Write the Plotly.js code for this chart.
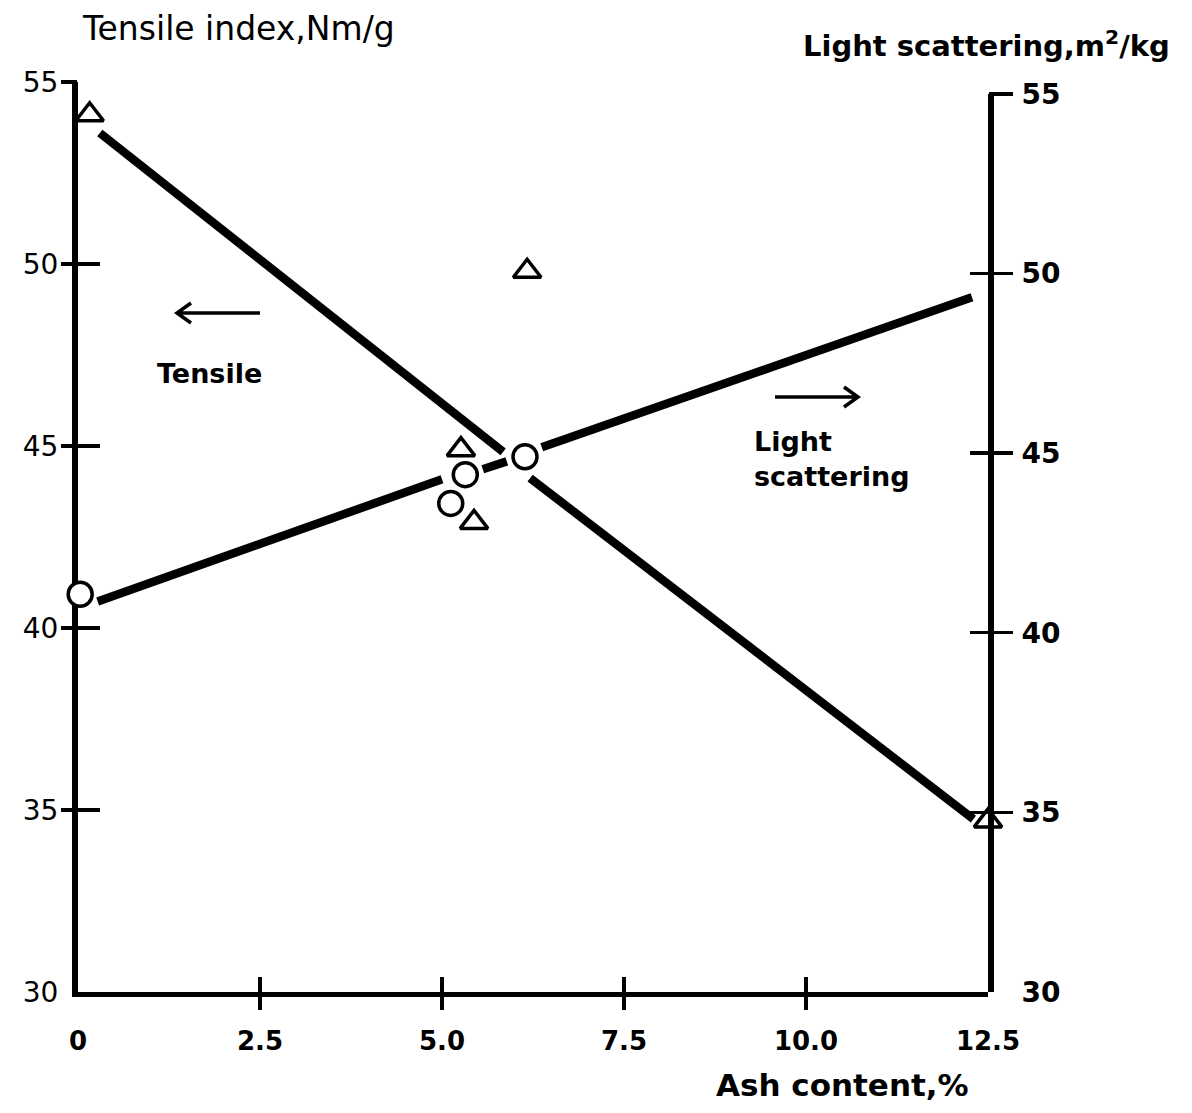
<!DOCTYPE html>
<html>
<head>
<meta charset="utf-8">
<script src="https://cdn.plot.ly/plotly-3.0.1.min.js"></script>
<style>html,body{margin:0;padding:0;background:#fff;}#chart{width:1192px;height:1113px;}</style>
</head>
<body>
<div id="chart"></div>
<script>
// Ash content (%) tick labels
const xTickVals = [0, 2.5, 5, 7.5, 10, 12.5];
const xTickText = ["0", "2.5", "5.0", "7.5", "10.0", "12.5"];
const xTickMarks = [2.5, 5, 7.5, 10];
const yTickVals = [30, 35, 40, 45, 50, 55];
const yTickText = ["30", "35", "40", "45", "50", "55"];
const yTickMarks = [35, 40, 45, 50, 55];

// Tensile index (left axis), triangles
const tensileAsh = [0.16, 5.26, 5.44, 6.17, 12.5];
const tensileIndex = [54.1, 44.9, 42.9, 49.8, 34.7];
// Tensile trend line (drawn with a break)
const tensileLineAsh = [0.30, 5.84, null, 6.21, 12.3];
const tensileLineVal = [53.6, 44.84, null, 44.12, 34.75];

// Light scattering (right axis), circles
const lightAsh = [0.03, 5.12, 5.32, 6.14, 12.55];
const lightScatter = [41.07, 43.6, 44.4, 44.9, 49.6];
// Light scattering trend line (drawn with breaks)
const lightLineAsh = [0.27, 5.0, null, 5.56, 5.89, null, 6.37, 12.28];
const lightLineVal = [40.87, 44.27, null, 44.55, 44.77, null, 45.16, 49.34];

const BOLD = "DejaVu Sans";
// invisible helper traces so that the crossing-tick axes get drawn
function helper(xa, ya, xs, ys) {
  return {x: xs, y: ys, xaxis: xa, yaxis: ya, mode: "none", hoverinfo: "skip", showlegend: false};
}
const traces = [
  {x: tensileLineAsh, y: tensileLineVal, xaxis: "x", yaxis: "y", mode: "lines",
   line: {color: "black", width: 8.5}, connectgaps: false, hoverinfo: "skip"},
  {x: lightLineAsh, y: lightLineVal, xaxis: "x", yaxis: "y2", mode: "lines",
   line: {color: "black", width: 8.5}, connectgaps: false, hoverinfo: "skip"},
  helper("x2", "y3", tensileAsh, tensileIndex),
  helper("x3", "y4", tensileAsh, tensileIndex),
  helper("x2", "y5", lightAsh, lightScatter),
  helper("x3", "y6", lightAsh, lightScatter),
  {x: tensileAsh, y: tensileIndex, xaxis: "x", yaxis: "y", mode: "markers", cliponaxis: false,
   marker: {symbol: "triangle-up", size: 24, color: "white", line: {color: "black", width: 3.5}}},
  {x: lightAsh, y: lightScatter, xaxis: "x", yaxis: "y2", mode: "markers", cliponaxis: false,
   marker: {symbol: "circle", size: 24, color: "white", line: {color: "black", width: 3.5}}}
];

const tickAxisBase = {showgrid: false, zeroline: false, showline: false, showticklabels: false,
                      tickcolor: "black", fixedrange: true, layer: "below traces"};

// direction arrows (decoration, paper coordinates)
const arrowLeft = "M0.2,0.74615 H0.10879 M0.12418,0.75714 L0.10879,0.74615 L0.12418,0.73516";
const arrowRight = "M0.76593,0.65385 H0.85714 M0.84176,0.66484 L0.85714,0.65385 L0.84176,0.64286";

const layout = {
  width: 1192, height: 1113,
  margin: {l: 78, r: 204, t: 82, b: 121},
  paper_bgcolor: "white",
  plot_bgcolor: "rgba(0,0,0,0)",
  showlegend: false,
  font: {family: "DejaVu Sans", color: "black"},
  xaxis: {range: [0, 12.5], anchor: "y", showline: true, linewidth: 5, linecolor: "black",
          showgrid: false, zeroline: false, ticks: "", tickvals: xTickVals, ticktext: xTickText,
          ticklabelstandoff: 22, tickfont: {family: BOLD, size: 26, weight: "bold"}, layer: "below traces"},
  xaxis2: Object.assign({}, tickAxisBase, {overlaying: "x", anchor: "y", range: [0, 12.5],
          tickvals: xTickMarks, ticks: "outside", ticklen: 17, tickwidth: 4}),
  xaxis3: Object.assign({}, tickAxisBase, {overlaying: "x", anchor: "y", range: [0, 12.5],
          tickvals: xTickMarks, ticks: "inside", ticklen: 15, tickwidth: 4}),
  yaxis: {range: [30, 55], anchor: "x", showline: true, linewidth: 6, linecolor: "black",
          showgrid: false, zeroline: false, ticks: "", tickvals: yTickVals, ticktext: yTickText,
          ticklabelstandoff: 8, tickfont: {size: 28}, layer: "below traces"},
  yaxis3: Object.assign({}, tickAxisBase, {overlaying: "y", anchor: "x", range: [30, 55],
          tickvals: yTickMarks, ticks: "outside", ticklen: 16, tickwidth: 3.5}),
  yaxis4: Object.assign({}, tickAxisBase, {overlaying: "y", anchor: "x", range: [30, 55],
          tickvals: yTickMarks, ticks: "inside", ticklen: 22, tickwidth: 3.5}),
  yaxis2: {range: [30, 55], domain: [0, 0.987], anchor: "x", side: "right", showline: true,
          linewidth: 6, linecolor: "black", showgrid: false, zeroline: false, ticks: "",
          tickvals: yTickVals, ticktext: yTickText, ticklabelstandoff: 22,
          tickfont: {family: BOLD, size: 28, weight: "bold"}, layer: "below traces"},
  yaxis5: Object.assign({}, tickAxisBase, {overlaying: "y2", anchor: "x", side: "right", range: [30, 55],
          tickvals: yTickMarks, ticks: "outside", ticklen: 24, tickwidth: 3.5}),
  yaxis6: Object.assign({}, tickAxisBase, {overlaying: "y2", anchor: "x", side: "right", range: [30, 55],
          tickvals: yTickMarks, ticks: "inside", ticklen: 18, tickwidth: 3.5}),
  shapes: [
    {type: "path", xref: "paper", yref: "paper", path: arrowLeft, line: {color: "black", width: 3.5}},
    {type: "path", xref: "paper", yref: "paper", path: arrowRight, line: {color: "black", width: 3.5}}
  ],
  annotations: [
    {text: "Tensile index,Nm/g", xref: "paper", yref: "paper", x: 0.002, y: 1.035,
     xanchor: "left", yanchor: "bottom", showarrow: false, font: {size: 33}},
    {text: "Light scattering,m<sup>2</sup>/kg", xref: "paper", yref: "paper", x: 1.202, y: 1.019,
     xanchor: "right", yanchor: "bottom", showarrow: false, font: {family: BOLD, size: 29, weight: "bold"}},
    {text: "Ash content,%", xref: "paper", yref: "paper", x: 0.84, y: -0.102,
     xanchor: "center", yanchor: "middle", showarrow: false, font: {family: BOLD, size: 31, weight: "bold"}},
    {text: "Tensile", xref: "paper", yref: "paper", x: 0.0846, y: 0.68,
     xanchor: "left", yanchor: "middle", showarrow: false, font: {family: BOLD, size: 27, weight: "bold"}},
    {text: "Light<br>scattering", xref: "paper", yref: "paper", x: 0.7407, y: 0.5857, align: "left",
     xanchor: "left", yanchor: "middle", showarrow: false, font: {family: BOLD, size: 27, weight: "bold"}}
  ]
};

Plotly.newPlot("chart", traces, layout, {staticPlot: true});
</script>
</body>
</html>
